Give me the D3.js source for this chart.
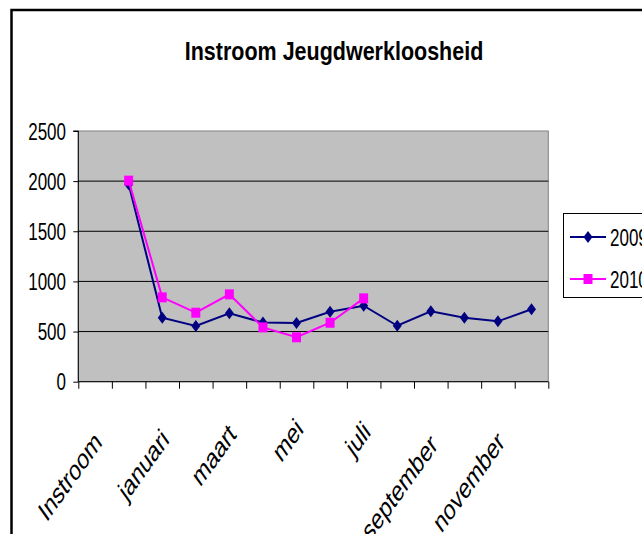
<!DOCTYPE html>
<html>
<head>
<meta charset="utf-8">
<script src="https://cdn.jsdelivr.net/npm/d3@7"></script>
<style>
html,body{margin:0;padding:0;background:#fff;overflow:hidden;}
svg{display:block;}
text{font-family:"Liberation Sans",Arial,sans-serif;fill:#000;}
</style>
</head>
<body>
<svg id="chart" width="642" height="534"></svg>
<script>
const title = "Instroom Jeugdwerkloosheid";
const categories = ["Instroom","2008","januari","februari","maart","april","mei","juni","juli","augustus","september","oktober","november","december"];
const values2009 = [null,1970,638,555,682,590,585,698,758,558,702,638,602,722];
const values2010 = [null,2005,841,688,871,542,443,588,831,null,null,null,null,null];
const seriesNames = ["2009","2010"];
const yTicks = [0,500,1000,1500,2000,2500];

const svg = d3.select("#chart");
const L = 78.3, R = 548.3, T = 131, B = 381.7;
const STRETCH = 1.4;

// outer frame
svg.append("rect").attr("x",11.5).attr("y",10).attr("width",800).attr("height",700)
  .attr("fill","none").attr("stroke","#000").attr("stroke-width",2.5);

// title
svg.append("text").attr("transform",`translate(334,59.5) scale(1,1.22)`)
  .attr("text-anchor","middle").attr("font-weight","bold").attr("font-size",21.5).text(title);

const x = d3.scaleLinear().domain([0,categories.length]).range([L,R]);
const y = d3.scaleLinear().domain([0,2500]).range([B,T]);

// plot area
svg.append("rect").attr("x",L).attr("y",T).attr("width",R-L).attr("height",B-T)
  .attr("fill","#C0C0C0").attr("stroke","#808080").attr("stroke-width",1);

// gridlines
svg.append("g").selectAll("line").data(yTicks.filter(t=>t>0 && t<2500)).join("line")
  .attr("x1",L).attr("x2",R).attr("y1",d=>y(d)).attr("y2",d=>y(d))
  .attr("stroke","#000").attr("stroke-width",1);

// y axis
const yAxis = svg.append("g").attr("transform",`translate(${L},0)`)
  .call(d3.axisLeft(y).tickValues(yTicks).tickSize(5).tickFormat(""));
yAxis.selectAll("path,line").attr("stroke","#000");
yAxis.select(".domain").attr("d",`M-5,${T}H0V${B}`);
svg.append("g").selectAll("text").data(yTicks).join("text")
  .attr("transform",d=>`translate(66,${y(d)+8.5}) scale(1,${STRETCH})`)
  .attr("text-anchor","end").attr("font-size",17).text(d=>d);

// x axis
const xAxis = svg.append("g").attr("transform",`translate(0,${B})`)
  .call(d3.axisBottom(x).tickValues(d3.range(categories.length+1)).tickSize(7).tickFormat(""));
xAxis.selectAll("path,line").attr("stroke","#000");
xAxis.select(".domain").attr("d",`M${L},0H${R}`);

// x labels (every other)
svg.append("g").selectAll("text").data(categories.map((c,i)=>({c,i})).filter(d=>d.i%2===0)).join("text")
  .attr("transform",d=>{
    const px = x(d.i+0.5)+8;
    const py = 423 + 2.6*d.c.length;
    return `translate(${px},${py}) scale(1,${STRETCH}) rotate(-45)`;
  })
  .attr("text-anchor","end").attr("font-size",20.5).text(d=>d.c);

// series
const colors = ["#000080","#FF00FF"];
const series = [values2009, values2010];
const line = d3.line().defined(d=>d.v!=null).x(d=>x(d.i+0.5)).y(d=>y(d.v));
const diamond = "M0,-6L4.5,0L0,6L-4.5,0Z";
const square = "M-4.5,-5H4.5V5H-4.5Z";
const shapes = [diamond, square];

series.forEach((vals,k)=>{
  const pts = vals.map((v,i)=>({v,i})).filter(d=>d.v!=null);
  svg.append("path").datum(pts).attr("d",line).attr("fill","none")
    .attr("stroke",colors[k]).attr("stroke-width",2);
  svg.append("g").selectAll("path").data(pts).join("path")
    .attr("transform",d=>`translate(${x(d.i+0.5)},${y(d.v)})`)
    .attr("d",shapes[k]).attr("fill",colors[k]);
});

// legend
svg.append("rect").attr("x",563.5).attr("y",213.5).attr("width",120).attr("height",84)
  .attr("fill","#fff").attr("stroke","#000").attr("stroke-width",1);
const ly = [237,279];
seriesNames.forEach((n,k)=>{
  svg.append("line").attr("x1",570).attr("x2",606).attr("y1",ly[k]).attr("y2",ly[k])
    .attr("stroke",colors[k]).attr("stroke-width",2);
  svg.append("path").attr("transform",`translate(588,${ly[k]})`).attr("d",shapes[k]).attr("fill",colors[k]);
  svg.append("text").attr("transform",`translate(610,${ly[k]+8.5}) scale(1,${STRETCH})`)
    .attr("font-size",17).text(n);
});
</script>
</body>
</html>
